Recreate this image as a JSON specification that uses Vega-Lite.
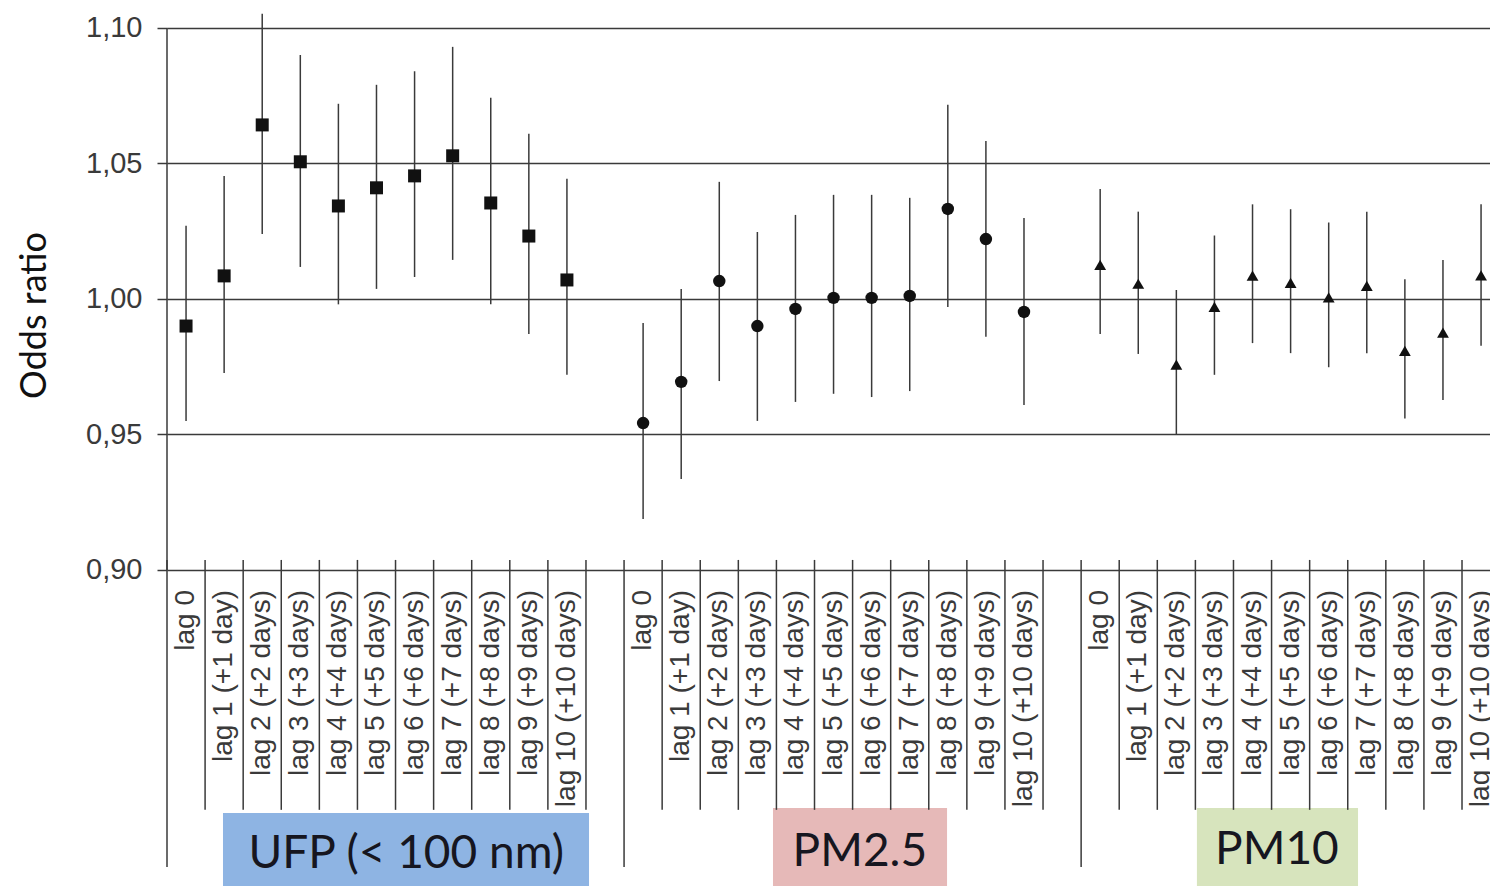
{
  "$schema": "https://vega.github.io/schema/vega-lite/v6.json",
  "width": 1323,
  "height": 876,
  "autosize": {"type": "none"},
  "padding": {"left": 167, "top": 10, "right": 0, "bottom": 0},
  "background": "white",
  "config": {"view": {"stroke": null}},
  "datasets": {
    "or": [
      {"pollutant": "UFP", "lag": "lag 0", "cat": "UFP lag 0", "or": 0.990, "lo": 0.955, "hi": 1.027},
      {"pollutant": "UFP", "lag": "lag 1 (+1 day)", "cat": "UFP lag 1 (+1 day)", "or": 1.0085, "lo": 0.9727, "hi": 1.0454},
      {"pollutant": "UFP", "lag": "lag 2 (+2 days)", "cat": "UFP lag 2 (+2 days)", "or": 1.0642, "lo": 1.024, "hi": 1.1052},
      {"pollutant": "UFP", "lag": "lag 3 (+3 days)", "cat": "UFP lag 3 (+3 days)", "or": 1.0506, "lo": 1.0118, "hi": 1.090},
      {"pollutant": "UFP", "lag": "lag 4 (+4 days)", "cat": "UFP lag 4 (+4 days)", "or": 1.0343, "lo": 0.998, "hi": 1.072},
      {"pollutant": "UFP", "lag": "lag 5 (+5 days)", "cat": "UFP lag 5 (+5 days)", "or": 1.041, "lo": 1.0037, "hi": 1.079},
      {"pollutant": "UFP", "lag": "lag 6 (+6 days)", "cat": "UFP lag 6 (+6 days)", "or": 1.0454, "lo": 1.0081, "hi": 1.084},
      {"pollutant": "UFP", "lag": "lag 7 (+7 days)", "cat": "UFP lag 7 (+7 days)", "or": 1.0528, "lo": 1.0144, "hi": 1.093},
      {"pollutant": "UFP", "lag": "lag 8 (+8 days)", "cat": "UFP lag 8 (+8 days)", "or": 1.0354, "lo": 0.998, "hi": 1.0742},
      {"pollutant": "UFP", "lag": "lag 9 (+9 days)", "cat": "UFP lag 9 (+9 days)", "or": 1.0232, "lo": 0.9871, "hi": 1.0609},
      {"pollutant": "UFP", "lag": "lag 10 (+10 days)", "cat": "UFP lag 10 (+10 days)", "or": 1.007, "lo": 0.972, "hi": 1.0443},
      {"pollutant": "PM2.5", "lag": "lag 0", "cat": "PM2.5 lag 0", "or": 0.9542, "lo": 0.9188, "hi": 0.9911},
      {"pollutant": "PM2.5", "lag": "lag 1 (+1 day)", "cat": "PM2.5 lag 1 (+1 day)", "or": 0.9694, "lo": 0.9336, "hi": 1.0037},
      {"pollutant": "PM2.5", "lag": "lag 2 (+2 days)", "cat": "PM2.5 lag 2 (+2 days)", "or": 1.0066, "lo": 0.9697, "hi": 1.0432},
      {"pollutant": "PM2.5", "lag": "lag 3 (+3 days)", "cat": "PM2.5 lag 3 (+3 days)", "or": 0.990, "lo": 0.955, "hi": 1.0247},
      {"pollutant": "PM2.5", "lag": "lag 4 (+4 days)", "cat": "PM2.5 lag 4 (+4 days)", "or": 0.9963, "lo": 0.962, "hi": 1.031},
      {"pollutant": "PM2.5", "lag": "lag 5 (+5 days)", "cat": "PM2.5 lag 5 (+5 days)", "or": 1.0004, "lo": 0.965, "hi": 1.0384},
      {"pollutant": "PM2.5", "lag": "lag 6 (+6 days)", "cat": "PM2.5 lag 6 (+6 days)", "or": 1.0004, "lo": 0.9638, "hi": 1.0384},
      {"pollutant": "PM2.5", "lag": "lag 7 (+7 days)", "cat": "PM2.5 lag 7 (+7 days)", "or": 1.0011, "lo": 0.966, "hi": 1.0373},
      {"pollutant": "PM2.5", "lag": "lag 8 (+8 days)", "cat": "PM2.5 lag 8 (+8 days)", "or": 1.0332, "lo": 0.997, "hi": 1.0716},
      {"pollutant": "PM2.5", "lag": "lag 9 (+9 days)", "cat": "PM2.5 lag 9 (+9 days)", "or": 1.0221, "lo": 0.986, "hi": 1.0583},
      {"pollutant": "PM2.5", "lag": "lag 10 (+10 days)", "cat": "PM2.5 lag 10 (+10 days)", "or": 0.9952, "lo": 0.9609, "hi": 1.0299},
      {"pollutant": "PM10", "lag": "lag 0", "cat": "PM10 lag 0", "or": 1.0126, "lo": 0.9871, "hi": 1.0406},
      {"pollutant": "PM10", "lag": "lag 1 (+1 day)", "cat": "PM10 lag 1 (+1 day)", "or": 1.0056, "lo": 0.9797, "hi": 1.0322},
      {"pollutant": "PM10", "lag": "lag 2 (+2 days)", "cat": "PM10 lag 2 (+2 days)", "or": 0.9758, "lo": 0.9498, "hi": 1.0033},
      {"pollutant": "PM10", "lag": "lag 3 (+3 days)", "cat": "PM10 lag 3 (+3 days)", "or": 0.9971, "lo": 0.972, "hi": 1.0234},
      {"pollutant": "PM10", "lag": "lag 4 (+4 days)", "cat": "PM10 lag 4 (+4 days)", "or": 1.0086, "lo": 0.9837, "hi": 1.0349},
      {"pollutant": "PM10", "lag": "lag 5 (+5 days)", "cat": "PM10 lag 5 (+5 days)", "or": 1.0059, "lo": 0.980, "hi": 1.0331},
      {"pollutant": "PM10", "lag": "lag 6 (+6 days)", "cat": "PM10 lag 6 (+6 days)", "or": 1.0006, "lo": 0.9748, "hi": 1.0282},
      {"pollutant": "PM10", "lag": "lag 7 (+7 days)", "cat": "PM10 lag 7 (+7 days)", "or": 1.0048, "lo": 0.980, "hi": 1.0322},
      {"pollutant": "PM10", "lag": "lag 8 (+8 days)", "cat": "PM10 lag 8 (+8 days)", "or": 0.9808, "lo": 0.9559, "hi": 1.0073},
      {"pollutant": "PM10", "lag": "lag 9 (+9 days)", "cat": "PM10 lag 9 (+9 days)", "or": 0.9876, "lo": 0.9627, "hi": 1.0144},
      {"pollutant": "PM10", "lag": "lag 10 (+10 days)", "cat": "PM10 lag 10 (+10 days)", "or": 1.0087, "lo": 0.9827, "hi": 1.0349}
    ]
  },
  "data": {"name": "or"},
  "layer": [
    {
      "mark": {"type": "rule", "color": "#3a3a3a", "strokeWidth": 1.5},
      "encoding": {
        "x": {"field": "cat", "type": "nominal", "scale": {"type": "band", "domain": ["UFP lag 0", "UFP lag 1 (+1 day)", "UFP lag 2 (+2 days)", "UFP lag 3 (+3 days)", "UFP lag 4 (+4 days)", "UFP lag 5 (+5 days)", "UFP lag 6 (+6 days)", "UFP lag 7 (+7 days)", "UFP lag 8 (+8 days)", "UFP lag 9 (+9 days)", "UFP lag 10 (+10 days)", "gap1", "PM2.5 lag 0", "PM2.5 lag 1 (+1 day)", "PM2.5 lag 2 (+2 days)", "PM2.5 lag 3 (+3 days)", "PM2.5 lag 4 (+4 days)", "PM2.5 lag 5 (+5 days)", "PM2.5 lag 6 (+6 days)", "PM2.5 lag 7 (+7 days)", "PM2.5 lag 8 (+8 days)", "PM2.5 lag 9 (+9 days)", "PM2.5 lag 10 (+10 days)", "gap2", "PM10 lag 0", "PM10 lag 1 (+1 day)", "PM10 lag 2 (+2 days)", "PM10 lag 3 (+3 days)", "PM10 lag 4 (+4 days)", "PM10 lag 5 (+5 days)", "PM10 lag 6 (+6 days)", "PM10 lag 7 (+7 days)", "PM10 lag 8 (+8 days)", "PM10 lag 9 (+9 days)", "PM10 lag 10 (+10 days)"], "range": [0, 1333.1], "paddingInner": 0, "paddingOuter": 0}, "axis": null},
        "y": {
          "field": "lo", "type": "quantitative",
          "scale": {"domain": [0.7834, 1.1066], "nice": false, "zero": false},
          "axis": {
            "values": [0.9, 0.95, 1, 1.05, 1.1],
            "grid": true, "gridColor": "#3a3a3a", "gridWidth": 1.5,
            "domain": false,
            "ticks": true, "tickSize": 10, "tickColor": "#3a3a3a", "tickWidth": 1.5,
            "labelFont": "Liberation Sans", "labelFontSize": 29, "labelColor": "#3a3a3a", "labelPadding": 15,
            "labelExpr": "replace(format(datum.value, '.2f'), '.', ',')",
            "title": "Odds ratio", "titleFont": "Lato", "titleFontSize": 36, "titleFontWeight": "normal", "titleColor": "#111111",
            "titleAngle": 270, "titleX": -122, "titleY": 305, "titleAlign": "center", "titleBaseline": "alphabetic"
          }
        },
        "y2": {"field": "hi"}
      }
    },
    {
      "data": {"values": [{"label": "UFP (< 100 nm)"}]},
      "layer": [
        {
          "mark": {"type": "rect", "color": "#8EB4E3"},
          "encoding": {
            "x": {"datum": "UFP lag 1 (+1 day)", "bandPosition": 0.47, "axis": null},
            "x2": {"datum": "UFP lag 10 (+10 days)", "bandPosition": 1.08},
            "y": {"datum": 0.8103},
            "y2": {"datum": 0.7834}
          }
        },
        {
          "mark": {"type": "text", "font": "Lato", "fontSize": 46, "color": "#161620", "align": "center", "baseline": "middle"},
          "encoding": {
            "x": {"datum": "UFP lag 6 (+6 days)", "bandPosition": 0.28, "axis": null},
            "y": {"datum": 0.7953},
            "text": {"field": "label"}
          }
        }
      ]
    },
    {
      "data": {"values": [{"label": "PM2.5"}]},
      "layer": [
        {
          "mark": {"type": "rect", "color": "#E6B9B8"},
          "encoding": {
            "x": {"datum": "PM2.5 lag 3 (+3 days)", "bandPosition": 0.91, "axis": null},
            "x2": {"datum": "PM2.5 lag 7 (+7 days)", "bandPosition": 1.48},
            "y": {"datum": 0.8122},
            "y2": {"datum": 0.7834}
          }
        },
        {
          "mark": {"type": "text", "font": "Lato", "fontSize": 46, "color": "#161620", "align": "center", "baseline": "middle"},
          "encoding": {
            "x": {"datum": "PM2.5 lag 6 (+6 days)", "bandPosition": 0.19, "axis": null},
            "y": {"datum": 0.7960},
            "text": {"field": "label"}
          }
        }
      ]
    },
    {
      "data": {"values": [{"label": "PM10"}]},
      "layer": [
        {
          "mark": {"type": "rect", "color": "#D7E4BD"},
          "encoding": {
            "x": {"datum": "PM10 lag 3 (+3 days)", "bandPosition": 0.04, "axis": null},
            "x2": {"datum": "PM10 lag 6 (+6 days)", "bandPosition": 1.27},
            "y": {"datum": 0.8122},
            "y2": {"datum": 0.7834}
          }
        },
        {
          "mark": {"type": "text", "font": "Lato", "fontSize": 46, "color": "#161620", "align": "center", "baseline": "middle"},
          "encoding": {
            "x": {"datum": "PM10 lag 5 (+5 days)", "bandPosition": 0.14, "axis": null},
            "y": {"datum": 0.7967},
            "text": {"field": "label"}
          }
        }
      ]
    },
    {
      "mark": {"type": "rule", "color": "#3a3a3a", "strokeWidth": 1.5},
      "encoding": {
        "x": {"field": "cat", "type": "nominal", "bandPosition": 1, "axis": null},
        "y": {"datum": 0.9037},
        "y2": {"datum": 0.8115}
      }
    },
    {
      "transform": [{"filter": "datum.lag == 'lag 0'"}],
      "mark": {"type": "rule", "color": "#3a3a3a", "strokeWidth": 1.5},
      "encoding": {
        "x": {"field": "cat", "type": "nominal", "bandPosition": 0, "axis": null},
        "y": {"datum": 0.9037},
        "y2": {"datum": 0.7904}
      }
    },
    {
      "data": {"values": [{"a": 1}]},
      "mark": {"type": "rule", "color": "#3a3a3a", "strokeWidth": 1.5},
      "encoding": {
        "x": {"datum": "UFP lag 0", "bandPosition": 0, "axis": null},
        "y": {"datum": 1.1},
        "y2": {"datum": 0.9}
      }
    },
    {
      "mark": {"type": "point", "filled": true, "opacity": 1, "color": "#111111", "strokeWidth": 0},
      "encoding": {
        "x": {"field": "cat", "type": "nominal", "axis": null},
        "y": {"field": "or", "type": "quantitative"},
        "shape": {"field": "pollutant", "type": "nominal", "scale": {"domain": ["UFP", "PM2.5", "PM10"], "range": ["square", "circle", "triangle-up"]}, "legend": null},
        "size": {"field": "pollutant", "type": "nominal", "scale": {"domain": ["UFP", "PM2.5", "PM10"], "range": [169, 140, 215]}, "legend": null}
      }
    },
    {
      "mark": {"type": "text", "angle": 270, "align": "right", "baseline": "middle", "font": "Liberation Sans", "fontSize": 28, "color": "#3a3a3a"},
      "encoding": {
        "x": {"field": "cat", "type": "nominal", "axis": null},
        "y": {"datum": 0.8926},
        "text": {"field": "lag"}
      }
    }
  ]
}
